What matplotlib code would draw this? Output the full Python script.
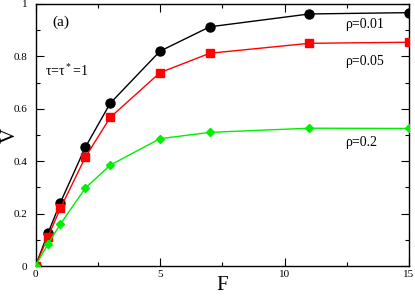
import matplotlib
matplotlib.use("Agg")
import matplotlib.pyplot as plt
from matplotlib.ticker import MultipleLocator, FuncFormatter

F = [0, 0.5, 1, 2, 3, 5, 7, 11, 15]
v_001 = [0.0, 0.125, 0.242, 0.453, 0.621, 0.82, 0.913, 0.962, 0.967]
v_005 = [0.0, 0.112, 0.22, 0.415, 0.567, 0.738, 0.812, 0.85, 0.854]
v_02 = [0.0, 0.084, 0.16, 0.297, 0.385, 0.486, 0.51, 0.526, 0.525]

plt.rcParams['font.family'] = ['Liberation Serif', 'DejaVu Serif']
plt.rcParams['mathtext.fontset'] = 'custom'
plt.rcParams['mathtext.rm'] = 'Liberation Serif'
plt.rcParams['mathtext.it'] = 'Liberation Serif'

fig = plt.figure(figsize=(4.15, 2.96), dpi=100)
ax = fig.add_axes([35.5/415, 30/296, (409-35.5)/415, (266-4)/296])

ax.plot(F, v_001, '-o', color='black', lw=1, ms=6.5, zorder=3)
ax.plot(F, v_005, '-s', color='#ff0000', lw=1, ms=5.5, zorder=3)
ax.plot(F, v_02, '-D', color='#00ee00', lw=1, ms=4.5, zorder=3)

ax.set_xlim(0, 15)
ax.set_ylim(0, 1)
ax.xaxis.set_major_locator(MultipleLocator(5))
ax.xaxis.set_minor_locator(MultipleLocator(2.5))
ax.yaxis.set_major_locator(MultipleLocator(0.2))
ax.yaxis.set_minor_locator(MultipleLocator(0.1))
fmt = FuncFormatter(lambda v, p: ('%g' % round(v, 2)))
ax.xaxis.set_major_formatter(fmt)
ax.yaxis.set_major_formatter(fmt)
ax.tick_params(which='both', direction='in', top=True, right=True, labelsize=8)
ax.tick_params(axis='y', pad=6)
ax.tick_params(axis='x', pad=3)
ax.tick_params(which='major', length=6, width=0.8)
ax.tick_params(which='minor', length=3, width=0.8)
for s in ax.spines.values():
    s.set_linewidth(1)

ax.set_xlabel('F', fontsize=15, va='baseline')
ax.set_ylabel('V', fontsize=15, va='baseline')
ax.xaxis.set_label_coords(0.5, -0.092)
ax.yaxis.set_label_coords(-0.055, 0.5)

ax.text(0.045, 0.93, '(a)', transform=ax.transAxes, fontsize=11, va='center', ha='left')
ax.text(0.025, 0.745, r'τ=τ$^*$=1', transform=ax.transAxes, fontsize=10, va='center', ha='left')
ax.text(0.83, 0.92, 'ρ=0.01', transform=ax.transAxes, fontsize=10, va='center', ha='left')
ax.text(0.83, 0.78, 'ρ=0.05', transform=ax.transAxes, fontsize=10, va='center', ha='left')
ax.text(0.83, 0.47, 'ρ=0.2', transform=ax.transAxes, fontsize=10, va='center', ha='left')

fig.savefig('out.png', dpi=100)
